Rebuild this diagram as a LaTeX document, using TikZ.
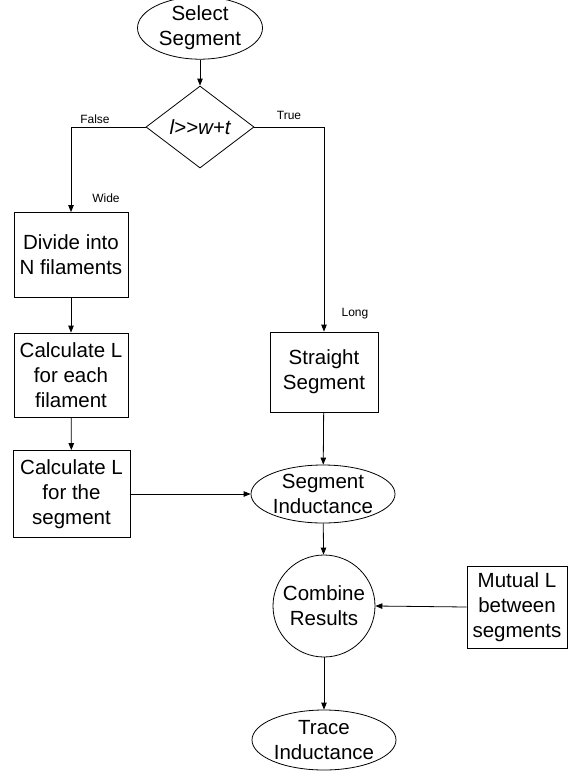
\documentclass[tikz,border=0pt]{standalone}
\usepackage{fontspec}
\setmainfont{Liberation Sans}
\usetikzlibrary{shapes.geometric,arrows.meta}

\tikzset{
  every picture/.style={line width=0.8pt},
  txt/.style={font=\fontsize{20.5}{25}\selectfont, align=center, inner sep=0pt},
  procbox/.style={txt, draw, rectangle, minimum width=#1},
  term/.style={txt, draw, ellipse, minimum width=144pt, minimum height=58pt},
  decide/.style={txt, draw, diamond, minimum width=108pt, minimum height=82pt},
  joinc/.style={txt, draw, circle, minimum size=102pt},
  lbl/.style={font=\fontsize{12}{14}\selectfont, inner sep=0pt, anchor=base},
  flow/.style={-{Triangle[length=7pt,width=5.5pt]}}
}

\begin{document}
\begin{tikzpicture}[x=1pt,y=-1pt]
  \useasboundingbox (0,0) rectangle (568,772);

  % start and decision
  \node[term, minimum width=125pt, minimum height=49pt] (sel) at (200,28) {Select\\Segment};
  \node[decide] (dec) at (200,127) {\itshape l>{}>w+t};

  % wide branch
  \node[procbox=114pt, minimum height=85pt] (div) at (71,255) {Divide into\\N filaments};
  \node[procbox=114pt, minimum height=84pt] (cfil) at (71,375) {Calculate L\\for each\\filament};
  \node[procbox=117pt, minimum height=87pt] (cseg) at (71.5,494) {Calculate L\\for the\\segment};

  % long branch
  \node[procbox=108pt, minimum height=80pt] (str) at (324,372) {Straight\\Segment};
  \node[term] (sind) at (323,494) {Segment\\Inductance};

  % combination
  \node[joinc] (comb) at (324,606) {Combine\\Results};
  \node[procbox=100pt, minimum height=82pt] (mut) at (517,607) {Mutual L\\between\\segments};
  \node[term, minimum height=60pt] (trace) at (324,740) {Trace\\Inductance};

  % branch labels
  \node[lbl] (lf) at (95,123) {False};
  \node[lbl] (lt) at (289,119) {True};
  \node[lbl] (lw) at (106,202) {Wide};
  \node[lbl] (ll) at (355,316) {Long};

  % connectors
  \draw[flow] (sel) -- (dec);
  \draw[flow] (dec.west) -| (div.north);
  \draw[flow] (dec.east) -| (str.north);
  \draw[flow] (div) -- (cfil);
  \draw[flow] (cfil) -- (cseg);
  \draw[flow] (str) -- (sind);
  \draw[flow] (cseg.east) -- (sind.west);
  \draw[flow] (sind) -- (comb);
  \draw[flow] (mut.west) -- (comb.east);
  \draw[flow] (comb) -- (trace);
\end{tikzpicture}
\end{document}
